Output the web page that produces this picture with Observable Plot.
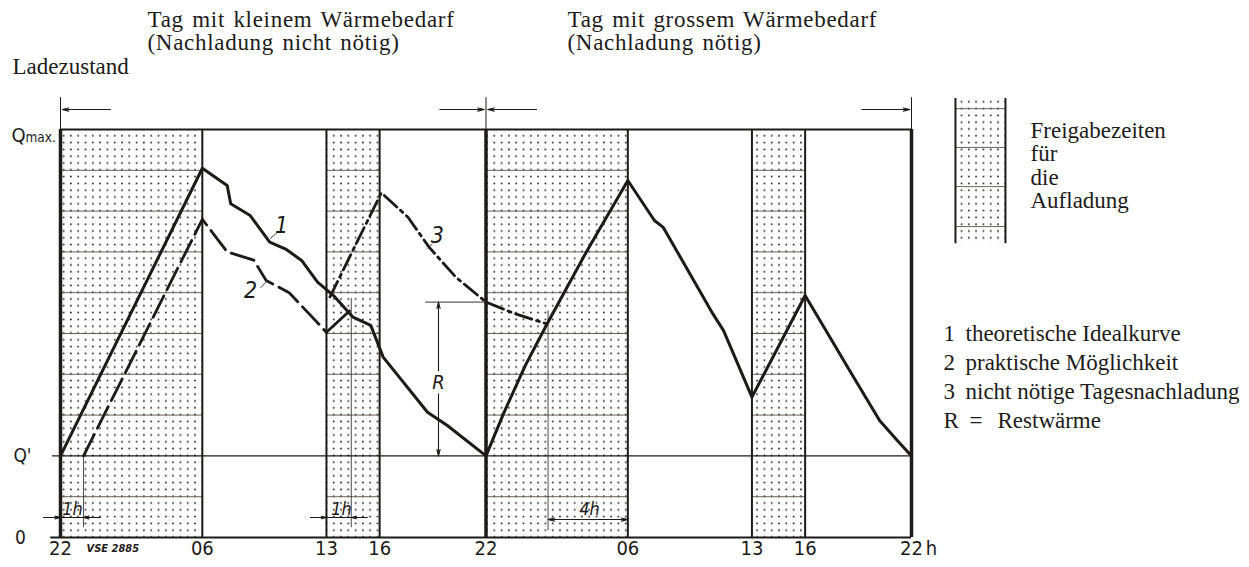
<!DOCTYPE html>
<html>
<head>
<meta charset="utf-8">
<script src="https://cdn.jsdelivr.net/npm/d3@7"></script>
<script src="https://cdn.jsdelivr.net/npm/@observablehq/plot@0.6"></script>
<style>
html, body { margin: 0; padding: 0; background: #ffffff; }
#chart { width: 1249px; height: 567px; overflow: hidden; }
.ttl text { letter-spacing: 0.7px; word-spacing: 2px; }
</style>
</head>
<body>
<div id="chart"></div>
<script>
// ---------------- data ----------------
// x = hours since 22:00 of the first day, y = state of charge (Q' = 2, Qmax = 10)
const hourTicks  = [0, 8, 15, 18, 24, 32, 39, 42, 48];
const hourLabels = ["22", "06", "13", "16", "22", "06", "13", "16", "22"];
const levelQmax = 10, levelQ1 = 2, levelZero = 0;
const releaseStart = [0, 15, 24, 39];
const releaseEnd   = [8, 18, 32, 42];
const gridLevels = [1, 3, 4, 5, 6, 7, 8, 9];
const dayBounds = [0, 24, 48];

// curve 1: theoretische Idealkurve
const curve1Hours  = [0, 8, 9.4, 9.6, 10.7, 11.8, 12.7, 13.6, 14.5, 15.4, 16.5, 17.5, 18.2, 20.7, 21.8, 24,
                      25.0, 26.2, 27.45, 29.7, 32, 33.5, 34, 36.8, 37.4, 39, 42, 43.4, 44.4, 46.2, 47.2, 48];
const curve1Levels = [2, 9.05, 8.63, 8.18, 7.89, 7.24, 7.07, 6.79, 6.26, 5.93, 5.40, 5.20, 4.42, 3.07, 2.75, 2,
                      3.05, 4.2, 5.24, 7.03, 8.75, 7.77, 7.6, 5.48, 5.07, 3.44, 5.93, 4.91, 4.17, 2.87, 2.38, 2];
// curve 2: praktische Möglichkeit
const curve2Hours  = [1.3, 8, 9.4, 10.9, 11.6, 12.9, 15];
const curve2Levels = [2, 7.8, 7.0, 6.8, 6.3, 6.0, 5.03];
const curve2bHours  = [15, 16.3];
const curve2bLevels = [5.03, 5.55];
// curve 3: nicht nötige Tagesnachladung
const curve3Hours  = [15.2, 18.1, 19.6, 20.8, 22.3, 24, 25.6, 27.4];
const curve3Levels = [5.9, 8.45, 7.85, 7.11, 6.38, 5.77, 5.49, 5.24];
// R = Restwärme (at 22 h of day 1)
const restTop = 5.77, restBottom = 2;

const titles = ["Tag mit kleinem Wärmebedarf", "(Nachladung nicht nötig)",
                "Tag mit grossem Wärmebedarf", "(Nachladung nötig)"];
const legendNums  = ["1", "2", "3"];
const legendTexts = ["theoretische Idealkurve", "praktische Möglichkeit", "nicht nötige Tagesnachladung"];
const releaseLegend = ["Freigabezeiten", "für", "die", "Aufladung"];

// ---------------- build ----------------
const ink = "#1d1b19";
const gridInk = "#6e6254";
const serif = "'Liberation Serif','Times New Roman',serif";
const sans = "'DejaVu Sans Condensed','DejaVu Sans',sans-serif";

const stripes = releaseStart.map((s, i) => ({s, e: releaseEnd[i]}));
const gridRows = stripes.flatMap(st => gridLevels.map(v => ({x1: st.s, x2: st.e, y: v})));
const edges = stripes.flatMap(st => [st.s, st.e]).filter(h => !dayBounds.includes(h));
const pts = (hs, vs) => hs.map((h, i) => ({h, v: vs[i]}));
const c1 = pts(curve1Hours, curve1Levels);
const c2 = pts(curve2Hours, curve2Levels);
const c2b = pts(curve2bHours, curve2bLevels);
const c3 = pts(curve3Hours, curve3Levels);
const labelOf = new Map(hourTicks.map((h, i) => [h, hourLabels[i]]));

// annotation helper positioned relative to the frame's top-left corner (pixels)
const ML = 60, MT = 129;
const txt = (s, px, py, o = {}) => Plot.text([s], {
  text: d => d, frameAnchor: "top-left", dx: px - ML, dy: py - MT,
  textAnchor: "start", lineAnchor: "middle", fill: ink, fontFamily: serif, fontSize: 23, ...o
});
const it = (s, x, y, size) => Plot.text([s], {x: () => x, y: () => y, text: d => d, fontSize: size,
  fontStyle: "italic", fontFamily: sans, fill: ink});

const arrowOpts = {stroke: ink, strokeWidth: 1.1, headLength: 9, headAngle: 28};

const legendBox = {x1: 50.48, x2: 53.3, y1: 7.2, y2: 10.76};
const legendRows = [10.51, 9.56, 8.60, 7.62];

const plot = Plot.plot({
  width: 1249, height: 567,
  marginLeft: 60, marginRight: 338, marginTop: 129, marginBottom: 30,
  x: {domain: [0, 48], axis: null},
  y: {domain: [0, 10], axis: null},
  style: {background: "#ffffff", overflow: "visible"},
  marks: [
    // release periods: dotted stripes
    Plot.rect(stripes, {x1: "s", x2: "e", y1: 0, y2: 10, fill: "url(#dots)"}),
    Plot.ruleY(gridRows, {x1: "x1", x2: "x2", y: "y", stroke: gridInk, strokeWidth: 1}),
    // frame lines
    Plot.ruleY([levelQ1], {x1: -0.45, x2: 48, stroke: ink, strokeWidth: 1.4}),
    Plot.ruleY([levelZero], {x1: -0.55, x2: 48, stroke: ink, strokeWidth: 2}),
    Plot.ruleY([levelQmax], {x1: 0, x2: 48, stroke: ink, strokeWidth: 2}),
    Plot.ruleX(edges, {y1: 0, y2: 10, stroke: ink, strokeWidth: 2}),
    Plot.ruleX(dayBounds, {y1: 0, y2: 10, stroke: ink, strokeWidth: 3.5}),
    Plot.ruleX(dayBounds, {y1: 10, y2: 10.78, stroke: ink, strokeWidth: 1}),
    // thin helper verticals
    Plot.ruleX([1.3], {y1: 0.24, y2: 2, stroke: ink, strokeWidth: 0.8}),
    Plot.ruleX([16.4], {y1: 0.24, y2: 5.86, stroke: ink, strokeWidth: 0.8}),
    Plot.ruleX([27.5], {y1: 0.17, y2: 5.56, stroke: ink, strokeWidth: 0.8}),
    // top day-span arrows
    Plot.arrow([0], {x1: 2.82, x2: 0.1, y1: 10.49, y2: 10.49, ...arrowOpts}),
    Plot.arrow([0], {x1: 21.4, x2: 23.9, y1: 10.49, y2: 10.49, ...arrowOpts}),
    Plot.arrow([0], {x1: 26.85, x2: 24.1, y1: 10.49, y2: 10.49, ...arrowOpts}),
    Plot.arrow([0], {x1: 45.2, x2: 47.9, y1: 10.49, y2: 10.49, ...arrowOpts}),
    // bottom 1h / 4h dimensions
    Plot.ruleY([0.49], {x1: -0.95, x2: 2.25, stroke: ink, strokeWidth: 1}),
    Plot.arrow([0], {x1: -0.95, x2: 0, y1: 0.49, y2: 0.49, ...arrowOpts}),
    Plot.arrow([0], {x1: 2.25, x2: 1.3, y1: 0.49, y2: 0.49, ...arrowOpts}),
    Plot.ruleY([0.49], {x1: 14.1, x2: 17.3, stroke: ink, strokeWidth: 1}),
    Plot.arrow([0], {x1: 14.1, x2: 15, y1: 0.49, y2: 0.49, ...arrowOpts}),
    Plot.arrow([0], {x1: 17.3, x2: 16.4, y1: 0.49, y2: 0.49, ...arrowOpts}),
    Plot.arrow([0], {x1: 29.8, x2: 27.5, y1: 0.44, y2: 0.44, ...arrowOpts}),
    Plot.arrow([0], {x1: 29.8, x2: 32, y1: 0.44, y2: 0.44, ...arrowOpts}),
    // R dimension
    Plot.ruleY([restTop], {x1: 20.6, x2: 24, stroke: ink, strokeWidth: 0.9}),
    Plot.arrow([0], {x1: 21.32, x2: 21.32, y1: 4.09, y2: restTop, ...arrowOpts}),
    Plot.arrow([0], {x1: 21.32, x2: 21.32, y1: 3.52, y2: restBottom, ...arrowOpts}),
    // curves
    Plot.line(c3, {x: "h", y: "v", stroke: ink, strokeWidth: 2.8, strokeDasharray: "17,5,3,5"}),
    Plot.line(c2, {x: "h", y: "v", stroke: ink, strokeWidth: 2.8, strokeDasharray: "24,7"}),
    Plot.line(c2b, {x: "h", y: "v", stroke: ink, strokeWidth: 2.8}),
    Plot.line(c1, {x: "h", y: "v", stroke: ink, strokeWidth: 3}),
    // curve labels and leaders
    Plot.link([0], {x1: 11.84, y1: 7.33, x2: 12.24, y2: 7.48, stroke: ink, strokeWidth: 0.8}),
    Plot.link([0], {x1: 11.28, y1: 6.12, x2: 11.68, y2: 6.3, stroke: ink, strokeWidth: 0.8}),
    Plot.link([0], {x1: 20.98, y1: 7.2, x2: 20.7, y2: 7.08, stroke: ink, strokeWidth: 0.8}),
    it("1", 12.47, 7.65, 23),
    it("2", 10.72, 6.05, 23),
    it("3", 21.26, 7.4, 23),
    it("R", 21.32, 3.80, 20),
    it("1h", 0.68, 0.7, 18),
    it("1h", 15.85, 0.7, 18),
    it("4h", 29.84, 0.7, 18),
    Plot.text(["VSE 2885"], {x: () => 1.47, y: () => -0.27, text: d => d, textAnchor: "start", fontSize: 11,
      fontStyle: "italic", fontWeight: "bold", fontFamily: sans, fill: ink}),
    // x tick labels
    Plot.text(hourTicks, {x: d => d, text: d => labelOf.get(d), frameAnchor: "bottom", dy: 17, fontSize: 20, fontFamily: sans, fill: ink}),
    Plot.text(["h"], {x: () => 48, text: d => d, frameAnchor: "bottom", dy: 17, dx: 20, fontSize: 20, fontFamily: sans, fill: ink}),
    // y labels
    Plot.text([levelQ1], {y: d => d, text: () => "Q'", frameAnchor: "left", dx: -38, textAnchor: "middle", fontSize: 19, fontFamily: sans, fill: ink}),
    Plot.text([levelZero], {y: d => d, text: () => "0", frameAnchor: "left", dx: -40, textAnchor: "middle", fontSize: 19, fontFamily: sans, fill: ink}),
    Plot.text([levelQmax], {y: d => d, text: () => "Q", frameAnchor: "left", dx: -42, dy: 6, textAnchor: "middle", fontSize: 20, fontFamily: sans, fill: ink}),
    Plot.text([levelQmax], {y: d => d, text: () => "max.", frameAnchor: "left", dx: -35, dy: 8, textAnchor: "start", fontSize: 13.5, fontFamily: sans, fill: ink}),
    // titles
    txt(titles[0], 147, 19.6, {className: "ttl"}),
    txt(titles[1], 147, 42.6, {className: "ttl"}),
    txt(titles[2], 567, 19.6, {className: "ttl"}),
    txt(titles[3], 567, 42.6, {className: "ttl"}),
    txt("Ladezustand", 12, 66.6),
    // legend: release periods
    Plot.rect([0], {...legendBox, fill: "url(#dots)"}),
    Plot.ruleY(legendRows, {x1: legendBox.x1, x2: legendBox.x2, stroke: gridInk, strokeWidth: 1}),
    Plot.ruleX([legendBox.x1, legendBox.x2], {y1: legendBox.y1, y2: legendBox.y2, stroke: ink, strokeWidth: 2}),
    ...releaseLegend.map((s, i) => txt(s, 1030, 130 + i * 23.5)),
    // legend: curves
    ...legendNums.map((s, i) => txt(s, 943, 333.6 + i * 29)),
    ...legendTexts.map((s, i) => txt(s, 965, 333.6 + i * 29)),
    txt("R", 943, 420.6),
    txt("=", 969, 420.6),
    txt("Restwärme", 997, 420.6)
  ]
});

// dotted fill pattern for the release periods
const defs = d3.select(plot).insert("defs", ":first-child");
const pat = defs.append("pattern").attr("id", "dots").attr("patternUnits", "userSpaceOnUse")
  .attr("x", 60).attr("y", 537 + 3.4).attr("width", 7.3).attr("height", 6.8);
pat.append("rect").attr("width", 7.3).attr("height", 6.8).attr("fill", "#ffffff");
pat.append("circle").attr("cx", 3.6).attr("cy", 3.4).attr("r", 0.95).attr("fill", "#2a2a2a");

document.getElementById("chart").appendChild(plot);
</script>
</body>
</html>
